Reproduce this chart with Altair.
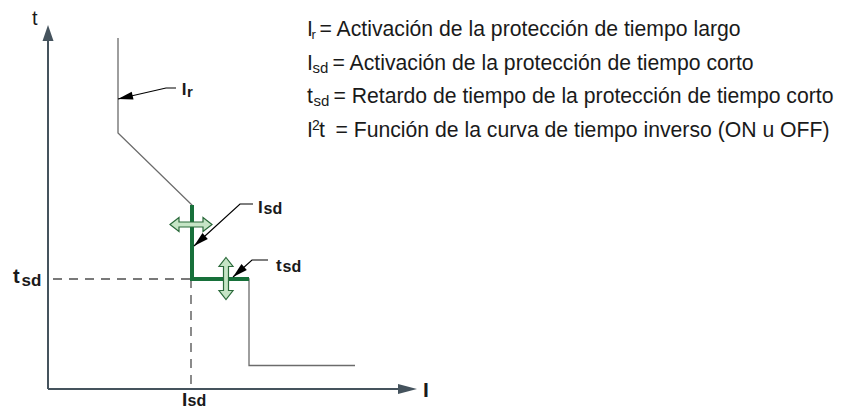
import altair as alt
import pandas as pd

# ---- conceptual coordinates (I = current, t = time), origin at axis intersection ----
# trip curve (long time + short time + instantaneous)
curve_I = [7.0, 7.0, 14.4, 14.4, 20.1, 20.1, 30.7]
curve_t = [35.1, 25.6, 18.4, 11.0, 11.0, 2.35, 2.35]
# short-time section highlighted in green
green_I = [14.4, 14.4, 20.1]
green_t = [18.4, 11.0, 11.0]
# dashed reference lines (seg id, I, t)
dash_seg = [0, 0, 1, 1]
dash_I = [0.5, 14.3, 14.3, 14.3]
dash_t = [11.0, 11.0, 11.0, 0.0]
# axes (seg id, I, t)
axis_seg = [0, 0, 1, 1]
axis_I = [0.0, 0.0, 0.0, 35.5]
axis_t = [0.0, 35.0, 0.0, 0.0]
# annotation leader lines (seg id, I, t)
lead_seg = [0, 0, 0, 1, 1, 1, 2, 2, 2]
lead_I = [12.8, 11.8, 7.0, 20.5, 19.2, 14.6, 22.0, 20.4, 18.5]
lead_t = [30.1, 30.1, 29.0, 18.5, 18.5, 14.3, 12.9, 12.9, 11.2]
# arrow heads: tips
head_I = [7.0, 14.6, 18.5, 0.0, 36.9]
head_t = [29.0, 14.3, 11.2, 36.4, 0.0]
head_angle = [167, 138, 138, 0, 0]
head_kind = ["lead", "lead", "lead", "up", "right"]
head_color = ["#000000", "#000000", "#000000", "#45535d", "#45535d"]
# double-headed adjustment arrows (centres)
dbl_I = [14.3, 17.8]
dbl_t = [16.45, 11.05]
dbl_angle = [0, 90]

# labels
bold_text = ["I", "r", "I", "sd", "t", "sd", "t", "sd", "I", "sd", "I"]
bold_I = [13.37, 13.9, 21.0, 21.55, 22.8, 23.45, -3.5, -2.65, 13.4, 13.95, 37.5]
bold_t = [29.4, 29.2, 17.57, 17.5, 11.83, 11.75, 10.6, 10.3, -1.65, -1.7, -0.8]
bold_size = [17, 15, 17, 16, 17, 16, 20, 17, 19, 16, 21]

reg_text = ["t",
            "I", "r", "= Activación de la protección de tiempo largo",
            "I", "sd", "= Activación de la protección de tiempo corto",
            "t", "sd", "= Retardo de tiempo de la protección de tiempo corto",
            "I", "2", "t", "= Función de la curva de tiempo inverso (ON u OFF)"]
reg_I = [-1.6,
         25.9, 26.35, 27.15,
         25.9, 26.45, 28.45,
         25.9, 26.55, 28.55,
         25.9, 26.4, 27.1, 28.75]
reg_t = [36.4,
         35.3, 35.0, 35.3,
         31.95, 31.65, 31.95,
         28.6, 28.3, 28.6,
         25.2, 25.9, 25.2, 25.2]
reg_size = [20,
            21.2, 13, 21.2,
            21.2, 15, 21.2,
            21.2, 15, 21.2,
            21.2, 14, 21.2, 21.2]

# ---- shapes (path units are pixels with size=4) ----
SHAPES = {
    "lead": "M0,0 L-15,-4 L-15,4 Z",
    "up": "M0,0 L-5.5,16 L5.5,16 Z",
    "right": "M0,0 L-19,-5 L-19,5 Z",
}
DBL = "M-21,0 L-12,-7 L-12,-2.5 L12,-2.5 L12,-7 L21,0 L12,7 L12,2.5 L-12,2.5 L-12,7 Z"

xs = alt.Scale(domain=[-4.0, 79.0], nice=False, zero=False)
ys = alt.Scale(domain=[-1.9, 38.1], nice=False, zero=False)
X = lambda: alt.X("I:Q", scale=xs, axis=None)
Y = lambda: alt.Y("t:Q", scale=ys, axis=None)

curve_df = pd.DataFrame({"I": curve_I, "t": curve_t, "o": range(len(curve_I))})
green_df = pd.DataFrame({"I": green_I, "t": green_t, "o": range(len(green_I))})
dash_df = pd.DataFrame({"I": dash_I, "t": dash_t, "seg": dash_seg, "o": range(len(dash_I))})
axis_df = pd.DataFrame({"I": axis_I, "t": axis_t, "seg": axis_seg, "o": range(len(axis_I))})
lead_df = pd.DataFrame({"I": lead_I, "t": lead_t, "seg": lead_seg, "o": range(len(lead_I))})
head_df = pd.DataFrame({"I": head_I, "t": head_t, "angle": head_angle,
                        "shape": [SHAPES[k] for k in head_kind], "col": head_color})
dbl_df = pd.DataFrame({"I": dbl_I, "t": dbl_t, "angle": dbl_angle})
bold_df = pd.DataFrame({"I": bold_I, "t": bold_t, "txt": bold_text, "sz": bold_size})
reg_df = pd.DataFrame({"I": reg_I, "t": reg_t, "txt": reg_text, "sz": reg_size})

dash = alt.Chart(dash_df).mark_line(color="#4d4d4d", strokeWidth=1.3, strokeDash=[9, 7]).encode(
    x=X(), y=Y(), detail="seg:N", order="o:Q")
curve = alt.Chart(curve_df).mark_line(color="#6b6b6b", strokeWidth=1.3).encode(
    x=X(), y=Y(), order="o:Q")
green = alt.Chart(green_df).mark_line(color="#17703a", strokeWidth=4, strokeJoin="miter").encode(
    x=X(), y=Y(), order="o:Q")
axes = alt.Chart(axis_df).mark_line(color="#45535d", strokeWidth=2).encode(
    x=X(), y=Y(), detail="seg:N", order="o:Q")
dbl = alt.Chart(dbl_df).mark_point(shape=DBL, size=4, filled=True, fill="#c6e5c6",
                                   stroke="#2b6a3b", strokeWidth=1.2, opacity=1).encode(
    x=X(), y=Y(), angle=alt.Angle("angle:Q", scale=None))
lead = alt.Chart(lead_df).mark_line(color="#000000", strokeWidth=1.2).encode(
    x=X(), y=Y(), detail="seg:N", order="o:Q")
heads = alt.Chart(head_df).mark_point(size=4, filled=True, opacity=1, strokeWidth=0).encode(
    x=X(), y=Y(), angle=alt.Angle("angle:Q", scale=None),
    shape=alt.Shape("shape:N", scale=None), color=alt.Color("col:N", scale=None))
bold = alt.Chart(bold_df).mark_text(align="left", baseline="alphabetic", fontWeight="bold",
                                    font="Liberation Sans", color="#1a1a1a").encode(
    x=X(), y=Y(), text="txt:N", size=alt.Size("sz:Q", scale=None))
reg = alt.Chart(reg_df).mark_text(align="left", baseline="alphabetic",
                                  font="Liberation Sans", color="#1a1a1a").encode(
    x=X(), y=Y(), text="txt:N", size=alt.Size("sz:Q", scale=None))

chart = alt.layer(dash, curve, green, axes, dbl, lead, heads, bold, reg).properties(
    width=830, height=400, padding=0, autosize=alt.AutoSizeParams(type="none")
).configure_view(stroke=None)

chart.save("out.html", embed_options={"renderer": "svg", "actions": False})
